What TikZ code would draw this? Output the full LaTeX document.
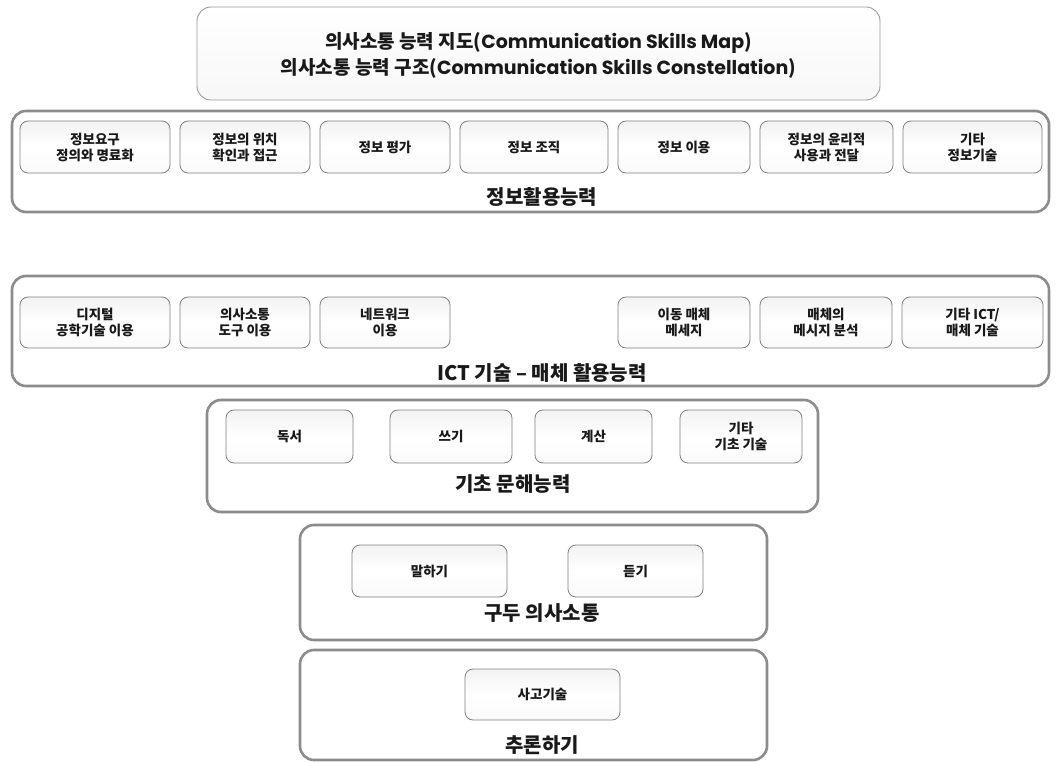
\documentclass[tikz,border=0pt]{standalone}
\usepackage{fontspec}
\setmainfont{Noto Sans CJK KR}
\newfontfamily\latinfont{Poppins}
\usetikzlibrary{shadings}
\begin{document}
\begin{tikzpicture}[x=1pt,y=-1pt,
  outerbox/.style={draw=black!45,line width=2.6pt,rounded corners=14pt},
  titlebox/.style={draw=black!40,line width=0.9pt,rounded corners=14pt,top color=white,bottom color=black!3},
  itembox/.style={draw=black!50,line width=0.8pt,rounded corners=8pt,top color=black!5,bottom color=black!2,middle color=white},
  itemtext/.style={font=\fontsize{13.5}{16}\selectfont\bfseries,align=center,text=black!90},
  grouplabel/.style={font=\fontsize{20}{24}\selectfont\bfseries,text=black!90},
  titletext/.style={font=\fontsize{19}{26}\selectfont\bfseries,align=center,text=black!90}]
\useasboundingbox (0,0) rectangle (1061,762);
\fill[white] (0,0) rectangle (1061,762);

% title
\draw[titlebox] (197,7) rectangle (880,100);
\node[titletext] (title) at (538.5,55) {의사소통 능력 지도({\latinfont Communication Skills Map})\\의사소통 능력 구조({\latinfont Communication Skills Constellation})};

% row 1
\draw[outerbox] (12,111) rectangle (1049,212);
\foreach \a/\b/\t [count=\i] in {20/170/{정보요구\\정의와 명료화},180/310/{정보의 위치\\확인과 접근},320/450/{정보 평가},460/608/{정보 조직},618/750/{정보 이용},760/893/{정보의 윤리적\\사용과 전달},903/1042/{기타\\정보기술}}{
  \draw[itembox] (\a,121) rectangle (\b,173);
  \node[itemtext] (r1b\i) at ({(\a+\b)/2},147) {\t};
}
\node[grouplabel] (r1label) at (542,197) {정보활용능력};

% row 2
\draw[outerbox] (12,276) rectangle (1049,386);
\foreach \a/\b/\t [count=\i] in {20/170/{디지털\\공학기술 이용},180/310/{의사소통\\도구 이용},320/450/{네트워크\\이용},618/750/{이동 매체\\메세지},760/892/{매체의\\메시지 분석},902/1043/{기타 ICT/\\매체 기술}}{
  \draw[itembox] (\a,297) rectangle (\b,348);
  \node[itemtext] (r2b\i) at ({(\a+\b)/2},322.5) {\t};
}
\node[grouplabel] (r2label) at (542,373) {ICT 기술 – 매체 활용능력};

% row 3
\draw[outerbox] (207,400) rectangle (818,512);
\foreach \a/\b/\t [count=\i] in {226/353/{독서},390/512/{쓰기},535/652/{계산},680/802/{기타\\기초 기술}}{
  \draw[itembox] (\a,410) rectangle (\b,463);
  \node[itemtext] (r3b\i) at ({(\a+\b)/2},436.5) {\t};
}
\node[grouplabel] (r3label) at (513,484) {기초 문해능력};

% row 4
\draw[outerbox] (300,525) rectangle (767,640);
\foreach \a/\b/\t [count=\i] in {352/507/{말하기},568/703/{듣기}}{
  \draw[itembox] (\a,545) rectangle (\b,597);
  \node[itemtext] (r4b\i) at ({(\a+\b)/2},571) {\t};
}
\node[grouplabel] (r4label) at (542,613) {구두 의사소통};

% row 5
\draw[outerbox] (300,650) rectangle (767,760);
\draw[itembox] (465,669) rectangle (620,720);
\node[itemtext] (r5b1) at (542.5,694.5) {사고기술};
\node[grouplabel] (r5label) at (542,745) {추론하기};
\end{tikzpicture}
\end{document}
